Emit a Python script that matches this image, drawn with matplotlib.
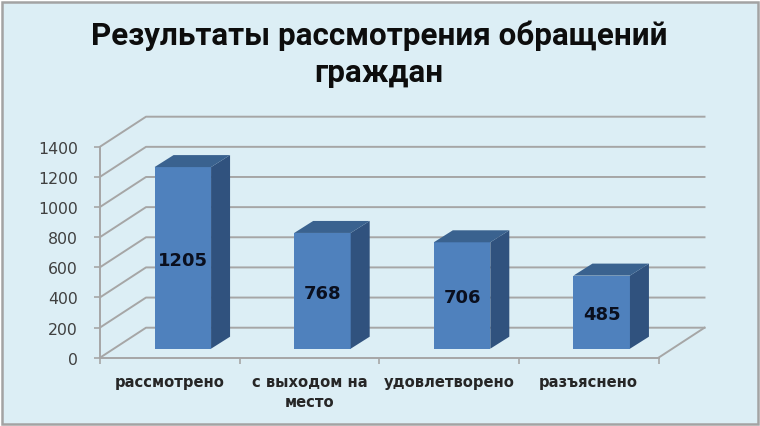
import matplotlib
matplotlib.use('Agg')
import matplotlib.pyplot as plt
from matplotlib.patches import Polygon, Rectangle

# data
categories = ['рассмотрено', 'с выходом на\nместо', 'удовлетворено', 'разъяснено']
values = [1205, 768, 706, 485]
y_ticks = [0, 200, 400, 600, 800, 1000, 1200, 1400]
title = 'Результаты рассмотрения обращений\nграждан'

W, H = 760, 427
x0, x1 = 100, 658.5
y0, y1 = 358.7, 147.7
px_x = (x1 - x0) / len(categories)
px_y = (y0 - y1) / y_ticks[-1]

# 3d offsets, px converted to data units
wall_dx, wall_dy = 46 / px_x, 30 / px_y
bar_dx, bar_dy = 19 / px_x, 12 / px_y
base_dx, base_dy = 13 / px_x, 9 / px_y
bar_w = 56.5 / px_x

grid_c = '#A6A6A6'
front_c, side_c, top_c = '#4F81BD', '#30527E', '#3A628F'
bg_c = '#DCEEF5'

fig = plt.figure(figsize=(W / 100, H / 100), dpi=100, facecolor='white')
fig.add_artist(Rectangle((1.5 / W, 2 / H), 756 / W, 422.5 / H, transform=fig.transFigure,
                         facecolor=bg_c, edgecolor='#A3A3A3', linewidth=1.8, zorder=-1))
ax = fig.add_axes([x0 / W, (H - y0) / H, (x1 - x0) / W, (y0 - y1) / H])
ax.patch.set_visible(False)
ax.set_xlim(0, len(categories))
ax.set_ylim(0, y_ticks[-1])

# back wall and left wall
for t in y_ticks:
    ax.plot([0, wall_dx, len(categories) + wall_dx], [t, t + wall_dy, t + wall_dy],
            color=grid_c, lw=1.4, clip_on=False, zorder=1)
ax.plot([len(categories), len(categories) + wall_dx], [0, wall_dy], color=grid_c, lw=1.4,
        clip_on=False, zorder=1)

# bars
xs = [i + 0.5 + base_dx for i in range(len(values))]
ax.bar(xs, values, bottom=base_dy, width=bar_w, color=front_c, zorder=3, clip_on=False)
for x, v in zip(xs, values):
    l, r = x - bar_w / 2, x + bar_w / 2
    b, t = base_dy, base_dy + v
    ax.add_patch(Polygon([(r, b), (r + bar_dx, b + bar_dy), (r + bar_dx, t + bar_dy), (r, t)],
                         facecolor=side_c, edgecolor='none', zorder=3, clip_on=False))
    ax.add_patch(Polygon([(l, t), (r, t), (r + bar_dx, t + bar_dy), (l + bar_dx, t + bar_dy)],
                         facecolor=top_c, edgecolor='none', zorder=3, clip_on=False))
    ax.text(x, base_dy + v / 2 - 2 / px_y, str(v), ha='center', va='center', fontsize=13,
            fontweight='bold', color='#0A0F1E', zorder=4)

# axes
for s in ['top', 'right']:
    ax.spines[s].set_visible(False)
for s in ['left', 'bottom']:
    ax.spines[s].set_color(grid_c)
    ax.spines[s].set_linewidth(1.4)
ax.set_yticks(y_ticks)
ax.tick_params(axis='y', colors=grid_c, labelcolor='#404040', labelsize=11.3, length=4, width=1.2, pad=12)
ax.set_xticks(range(len(categories) + 1))
ax.set_xticklabels([])
ax.tick_params(axis='x', which='major', colors=grid_c, length=4, width=1.2)
ax.set_xticks([i + 0.5 for i in range(len(categories))], minor=True)
ax.set_xticklabels(categories, minor=True, fontsize=10.6, fontweight='bold', color='#262626',
                   linespacing=1.4)
ax.tick_params(axis='x', which='minor', length=0, pad=12)

fig.text(379 / W, 1 - 54 / H, title, ha='center', va='center', fontsize=22.6, fontweight='bold',
         family='Roboto', color='#0D0D0D', linespacing=1.3)

fig.savefig('out.png', dpi=100)
